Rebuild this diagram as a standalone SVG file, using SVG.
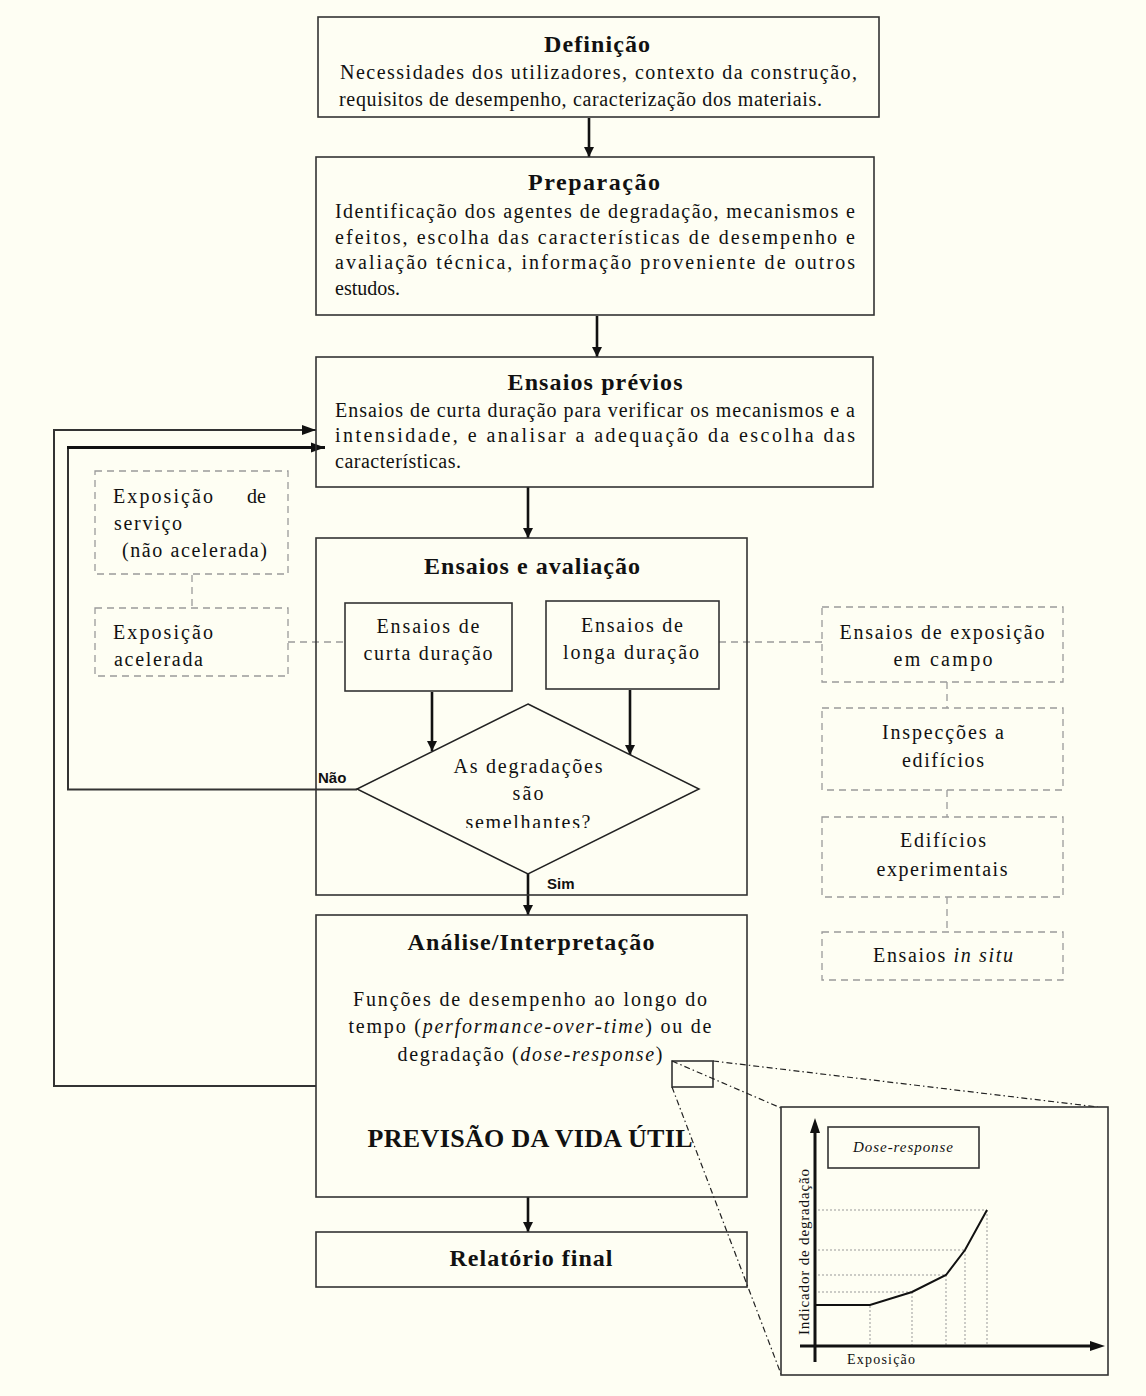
<svg xmlns="http://www.w3.org/2000/svg" width="1146" height="1396" viewBox="0 0 1146 1396">
  <defs>
    <style>
      .box { fill: none; stroke: #333; stroke-width: 1.6; }
      .dbox { fill: none; stroke: #9a9a9a; stroke-width: 1.3; stroke-dasharray: 7 5; }
      .dline { fill: none; stroke: #9a9a9a; stroke-width: 1.3; stroke-dasharray: 7 5; }
      .flow { fill: none; stroke: #111; stroke-width: 2.6; }
      .loop { fill: none; stroke: #333; stroke-width: 2; }
      .t { font-family: "Liberation Serif", "Times New Roman", serif; font-size: 20px; fill: #111; }
      .h { font-family: "Liberation Serif", "Times New Roman", serif; font-size: 24px; font-weight: bold; fill: #111; }
      .lbl { font-family: "Liberation Sans", Arial, sans-serif; font-size: 15px; font-weight: bold; fill: #111; }
      .c { text-anchor: middle; }
      .it { font-style: italic; }
      .dot { fill: none; stroke: #999; stroke-width: 1; stroke-dasharray: 2 2; }
      .dd { fill: none; stroke: #222; stroke-width: 1.2; stroke-dasharray: 6 3 1.5 3; }
    </style>
    <marker id="ah" markerUnits="userSpaceOnUse" markerWidth="10" markerHeight="12" refX="10" refY="6" orient="auto">
      <path d="M0,1 L10,6 L0,11 Z" fill="#111"/>
    </marker>
    <marker id="ahs" markerUnits="userSpaceOnUse" markerWidth="14" markerHeight="12" refX="14" refY="6" orient="auto">
      <path d="M0,1 L14,6 L0,11 Z" fill="#111"/>
    </marker>
    <clipPath id="qclip">
      <rect x="440" y="800" width="180" height="28"/>
    </clipPath>
  </defs>

  <rect x="0" y="0" width="1146" height="1396" fill="#fefef3"/>

  <!-- feedback loops and flow arrows -->
  <g id="connectors">
    <path class="flow" d="M589,118 V157" marker-end="url(#ah)"/>
    <path class="flow" d="M597,316 V357" marker-end="url(#ah)"/>
    <path class="flow" d="M528,487 V538" marker-end="url(#ah)"/>
    <path class="flow" d="M432,692 V751" marker-end="url(#ah)"/>
    <path class="flow" d="M630,690 V755" marker-end="url(#ah)"/>
    <path class="flow" d="M528,874 V915" marker-end="url(#ah)"/>
    <path class="flow" d="M528,1197 V1232" marker-end="url(#ah)"/>
    <path class="loop" d="M316,1086 H54 V430 H316" marker-end="url(#ahs)"/>
    <path class="loop" d="M357,789.5 H68 V447.5"/>
    <path class="flow" style="stroke-width:3" d="M67,447.5 H325" marker-end="url(#ahs)"/>
    <!-- dashed links to exposure types -->
    <path class="dline" d="M192,575 V608"/>
    <path class="dline" d="M288,642 H345"/>
    <path class="dline" d="M719,642 H822"/>
    <path class="dline" d="M947,682 V708"/>
    <path class="dline" d="M947,790 V817"/>
    <path class="dline" d="M947,897 V932"/>
    <text class="lbl" x="318" y="783">Não</text>
    <text class="lbl" x="547" y="889">Sim</text>
  </g>

  <g id="definicao">
    <rect class="box" x="318" y="17" width="561" height="100"/>
    <text class="h c" x="597" y="52" textLength="106" lengthAdjust="spacing">Definição</text>
    <text class="t" x="340" y="79" textLength="517" lengthAdjust="spacing">Necessidades dos utilizadores, contexto da construção,</text>
    <text class="t" x="339" y="106" textLength="483" lengthAdjust="spacing">requisitos de desempenho, caracterização dos materiais.</text>
  </g>

  <g id="preparacao">
    <rect class="box" x="316" y="157" width="558" height="158"/>
    <text class="h c" x="594" y="190" textLength="132" lengthAdjust="spacing">Preparação</text>
    <text class="t" x="335" y="218" textLength="520" lengthAdjust="spacing">Identificação dos agentes de degradação, mecanismos e</text>
    <text class="t" x="335" y="244" textLength="520" lengthAdjust="spacing">efeitos, escolha das características de desempenho e</text>
    <text class="t" x="335" y="269" textLength="520" lengthAdjust="spacing">avaliação técnica, informação proveniente de outros</text>
    <text class="t" x="335" y="295">estudos.</text>
  </g>

  <g id="ensaios-previos">
    <rect class="box" x="316" y="357" width="557" height="130"/>
    <text class="h c" x="595" y="390" textLength="175" lengthAdjust="spacing">Ensaios prévios</text>
    <text class="t" x="335" y="417" textLength="520" lengthAdjust="spacing">Ensaios de curta duração para verificar os mecanismos e a</text>
    <text class="t" x="335" y="442" textLength="520" lengthAdjust="spacing">intensidade, e analisar a adequação da escolha das</text>
    <text class="t" x="335" y="468" textLength="126" lengthAdjust="spacing">características.</text>
  </g>

  <g id="exposicao-servico">
    <rect class="dbox" x="95" y="471" width="193" height="103"/>
    <text class="t"><tspan x="113" y="503" textLength="100" lengthAdjust="spacing">Exposição</tspan><tspan x="247" y="503">de</tspan></text>
    <text class="t" x="114" y="530" textLength="68" lengthAdjust="spacing">serviço</text>
    <text class="t" x="122" y="557" textLength="145" lengthAdjust="spacing">(não acelerada)</text>
  </g>

  <g id="exposicao-acelerada">
    <rect class="dbox" x="95" y="608" width="193" height="68"/>
    <text class="t" x="113" y="639" textLength="100" lengthAdjust="spacing">Exposição</text>
    <text class="t" x="114" y="666" textLength="89" lengthAdjust="spacing">acelerada</text>
  </g>

  <g id="ensaios-avaliacao">
    <rect class="box" x="316" y="538" width="431" height="357"/>
    <text class="h c" x="532" y="574" textLength="216" lengthAdjust="spacing">Ensaios e avaliação</text>
  </g>

  <g id="curta-duracao">
    <rect class="box" x="345" y="603" width="167" height="88"/>
    <text class="t c" x="428" y="633" textLength="103" lengthAdjust="spacing">Ensaios de</text>
    <text class="t c" x="428" y="660" textLength="129" lengthAdjust="spacing">curta duração</text>
  </g>

  <g id="longa-duracao">
    <rect class="box" x="546" y="601" width="173" height="88"/>
    <text class="t c" x="632" y="632" textLength="102" lengthAdjust="spacing">Ensaios de</text>
    <text class="t c" x="631" y="659" textLength="136" lengthAdjust="spacing">longa duração</text>
  </g>

  <g id="decisao">
    <polygon points="528,704 699,789 528,874 357,789" fill="#fefef3" stroke="#222" stroke-width="1.5"/>
    <text class="t c" x="528" y="773" textLength="149" lengthAdjust="spacing">As degradações</text>
    <text class="t c" x="528" y="800" textLength="31" lengthAdjust="spacing">são</text>
    <text class="t c" x="528" y="829" textLength="125" lengthAdjust="spacing" clip-path="url(#qclip)">semelhantes?</text>
  </g>

  <g id="campo">
    <rect class="dbox" x="822" y="607" width="241" height="75"/>
    <text class="t c" x="942" y="639" textLength="205" lengthAdjust="spacing">Ensaios de exposição</text>
    <text class="t c" x="943" y="666" textLength="99" lengthAdjust="spacing">em campo</text>
  </g>

  <g id="inspeccoes">
    <rect class="dbox" x="822" y="708" width="241" height="82"/>
    <text class="t c" x="943" y="739" textLength="122" lengthAdjust="spacing">Inspecções a</text>
    <text class="t c" x="943" y="767" textLength="82" lengthAdjust="spacing">edifícios</text>
  </g>

  <g id="experimentais">
    <rect class="dbox" x="822" y="817" width="241" height="80"/>
    <text class="t c" x="943" y="847" textLength="86" lengthAdjust="spacing">Edifícios</text>
    <text class="t c" x="942" y="876" textLength="131" lengthAdjust="spacing">experimentais</text>
  </g>

  <g id="in-situ">
    <rect class="dbox" x="822" y="932" width="241" height="48"/>
    <text class="t c" x="943" y="962" textLength="140" lengthAdjust="spacing">Ensaios <tspan class="it">in situ</tspan></text>
  </g>

  <g id="analise">
    <rect class="box" x="316" y="915" width="431" height="282"/>
    <text class="h c" x="531" y="950" textLength="247" lengthAdjust="spacing">Análise/Interpretação</text>
    <text class="t c" x="530" y="1006" textLength="354" lengthAdjust="spacing">Funções de desempenho ao longo do</text>
    <text class="t c" x="530" y="1033" textLength="363" lengthAdjust="spacing">tempo (<tspan class="it">performance-over-time</tspan>) ou de</text>
    <text class="t c" x="530" y="1061" textLength="265" lengthAdjust="spacing">degradação (<tspan class="it">dose-response</tspan>)</text>
    <text class="h c" style="font-size:26px" x="530" y="1147" textLength="325" lengthAdjust="spacing">PREVISÃO DA VIDA ÚTIL</text>
    <rect class="box" x="672" y="1061" width="41" height="26"/>
  </g>

  <g id="relatorio">
    <rect class="box" x="316" y="1232" width="431" height="55"/>
    <text class="h c" x="531" y="1266" textLength="163" lengthAdjust="spacing">Relatório final</text>
  </g>

  <!-- zoom-in lines from the detail marker to the chart -->
  <g id="zoom-lines">
    <path class="dd" d="M713,1061 L1098,1107"/>
    <path class="dd" d="M672,1061 L781,1108"/>
    <path class="dd" d="M672,1087 L781,1374"/>
  </g>

  <g id="grafico">
    <rect x="781" y="1107" width="327" height="268" fill="#fefef3" stroke="#333" stroke-width="1.6"/>
    <rect class="box" x="828" y="1127" width="151" height="41"/>
    <text class="t c it" style="font-size:15px" x="903" y="1152" textLength="100" lengthAdjust="spacing">Dose-response</text>
    <!-- guide lines -->
    <path class="dot" d="M818,1292 H912 M818,1275 H946 M818,1250 H965 M818,1210 H987"/>
    <path class="dot" d="M870,1306 V1345 M912,1292 V1345 M946,1275 V1345 M965,1250 V1345 M987,1210 V1345"/>
    <!-- axes -->
    <path d="M815,1362 V1132" stroke="#111" stroke-width="3" fill="none"/>
    <path d="M815,1118 L810,1133 L820,1133 Z" fill="#111"/>
    <path d="M800,1346 H1092" stroke="#111" stroke-width="3" fill="none"/>
    <path d="M1105,1346 L1090,1341 L1090,1351 Z" fill="#111"/>
    <polyline points="815,1305 870,1305 912,1292 946,1275 965,1250 987,1210" fill="none" stroke="#111" stroke-width="2"/>
    <text class="t" style="font-size:15px" text-anchor="middle" transform="translate(809,1252) rotate(-90)" textLength="166" lengthAdjust="spacing">Indicador de degradação</text>
    <text class="t" style="font-size:14px" x="847" y="1364" textLength="68" lengthAdjust="spacing">Exposição</text>
  </g>
</svg>
